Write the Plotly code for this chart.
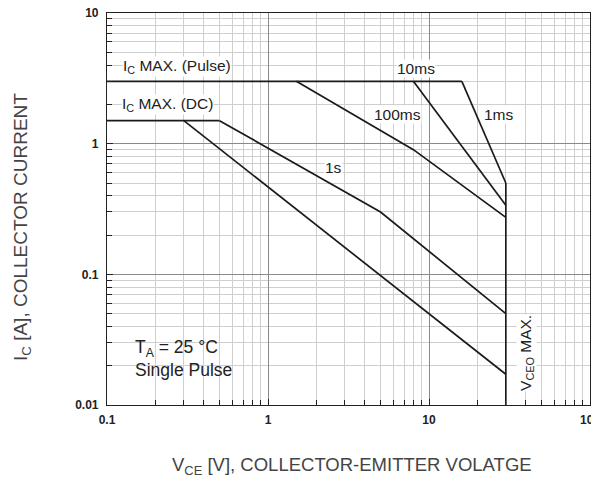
import plotly.graph_objects as go

# Safe operating area boundaries (V_CE [V], I_C [A])
pulse_x = [0.1, 16]
pulse_y = [3, 3]
dcmax_x = [0.1, 0.5]
dcmax_y = [1.5, 1.5]
ms1_x = [16, 30]
ms1_y = [3, 0.5]
ms10_x = [8, 30]
ms10_y = [3, 0.338]
ms100_x = [1.5, 8, 30]
ms100_y = [3, 0.9, 0.273]
s1_x = [0.5, 5, 30]
s1_y = [1.5, 0.3, 0.05]
dc_x = [0.3, 30]
dc_y = [1.5, 0.0172]
vceo_x = [30, 30]
vceo_y = [0.01, 0.5]

x_ticks = [0.1, 1, 10, 100]
x_ticklabels = ["0.1", "1", "10", "100"]
y_ticks = [0.01, 0.1, 1, 10]
y_ticklabels = ["0.01", "0.1", "1", "10"]

FONT = "Liberation Sans, Arial, sans-serif"
TICKFONT = dict(family=FONT, size=12, color="#222", weight="bold")

fig = go.Figure()
for xs, ys in [(pulse_x, pulse_y), (dcmax_x, dcmax_y), (ms1_x, ms1_y), (ms10_x, ms10_y),
               (ms100_x, ms100_y), (s1_x, s1_y), (dc_x, dc_y), (vceo_x, vceo_y)]:
    fig.add_trace(go.Scatter(x=xs, y=ys, mode="lines",
                             line=dict(color="#1a1a1a", width=1.7),
                             showlegend=False, hoverinfo="skip"))

axis_common = dict(
    type="log", showline=True, linecolor="#222", linewidth=1.2, mirror=True,
    showgrid=True, gridcolor="#8a8a8a", gridwidth=1,
    ticks="inside", ticklen=6, tickcolor="#222",
    tickfont=TICKFONT,
    ticklabeloverflow="allow", automargin=False,
    zeroline=False,
    minor=dict(dtick="D1", showgrid=True, gridcolor="#cfcfcf", gridwidth=1,
               ticks="inside", ticklen=5, tickcolor="#222"),
)

fig.update_xaxes(range=[-1, 2], tickvals=x_ticks, ticktext=x_ticklabels,
                 ticklabelstandoff=3, **axis_common)
fig.update_yaxes(range=[-2, 1], tickvals=y_ticks, ticktext=y_ticklabels,
                 ticklabelstandoff=5, **axis_common)

ann_font = dict(family=FONT, size=15.5, color="#222")
annotations = [
    dict(x=-0.907, y=0.587, xref="x", yref="y", text="I<sub>C</sub> MAX. (Pulse)",
         xanchor="left", showarrow=False, bgcolor="white", font=ann_font, borderpad=0),
    dict(x=-0.913, y=0.296, xref="x", yref="y", text="I<sub>C</sub> MAX. (DC)",
         xanchor="left", showarrow=False, bgcolor="white", font=ann_font, borderpad=0),
    dict(x=0.919, y=0.579, xref="x", yref="y", text="10ms",
         showarrow=False, bgcolor="white", font=ann_font, borderpad=0),
    dict(x=0.807, y=0.227, xref="x", yref="y", text="100ms",
         showarrow=False, bgcolor="white", font=ann_font, borderpad=0),
    dict(x=1.435, y=0.227, xref="x", yref="y", text="1ms",
         showarrow=False, bgcolor="white", font=ann_font, borderpad=0),
    dict(x=0.404, y=-0.186, xref="x", yref="y", text="1s",
         showarrow=False, bgcolor="white", font=ann_font, borderpad=0),
    dict(x=1.609, y=-1.601, xref="x", yref="y", text="V<sub>CEO</sub> MAX.", textangle=-90,
         showarrow=False, bgcolor="white", font=ann_font, borderpad=0),
    dict(x=-0.839, y=-1.647, xref="x", yref="y",
         text="T<sub>A</sub> = 25 °C<br>Single Pulse", align="left", xanchor="left",
         showarrow=False, font=dict(family=FONT, size=17.5, color="#222")),
    dict(x=0.507, y=-0.156, xref="paper", yref="paper", xanchor="center", yanchor="middle",
         text="V<sub>CE</sub> [V], COLLECTOR-EMITTER VOLATGE",
         showarrow=False, font=dict(family=FONT, size=18.5, color="#444")),
    dict(x=-0.176, y=0.454, xref="paper", yref="paper", xanchor="center", yanchor="middle",
         text="I<sub>C</sub> [A], COLLECTOR CURRENT", textangle=-90,
         showarrow=False, font=dict(family=FONT, size=19, color="#444")),
]

# The page body adds an 8px margin, so the figure is 8px smaller than the window
fig.update_layout(
    width=591, height=478,
    margin=dict(l=99, r=9, t=5, b=81, autoexpand=False),
    paper_bgcolor="white", plot_bgcolor="white",
    annotations=annotations,
    shapes=[dict(type="rect", xref="x", yref="y", x0=-0.92, x1=-0.143, y0=-2, y1=-1.372,
                 fillcolor="white", line=dict(width=0), layer="below")],
)

fig.write_html("out.html")
